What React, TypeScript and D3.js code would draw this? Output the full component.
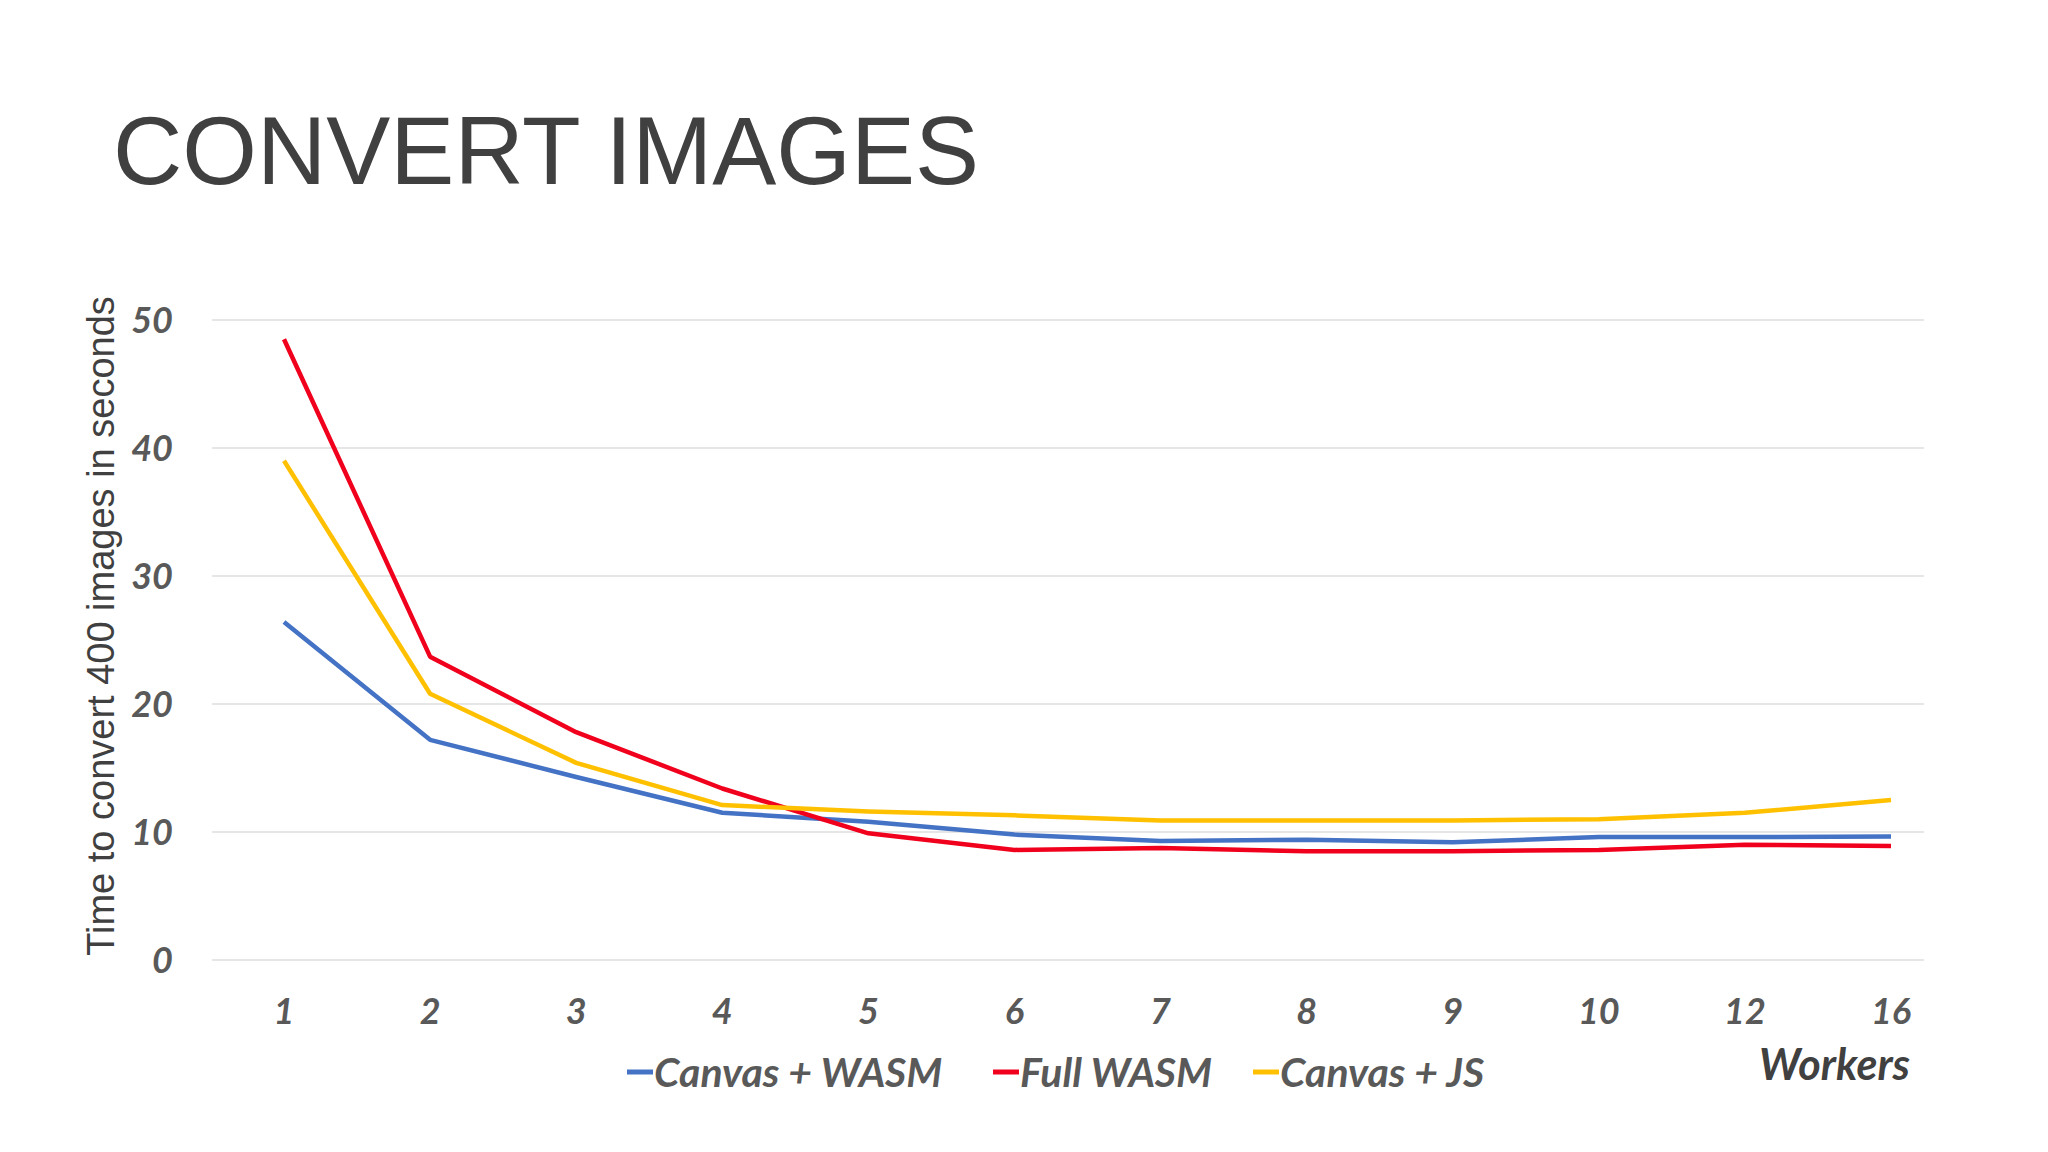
import * as d3 from 'd3'

const WORKERS = ['1', '2', '3', '4', '5', '6', '7', '8', '9', '10', '12', '16']
const CANVAS_WASM = [26.4, 17.2, 14.3, 11.5, 10.8, 9.8, 9.3, 9.4, 9.2, 9.6, 9.6, 9.65]
const FULL_WASM = [48.5, 23.7, 17.8, 13.4, 9.9, 8.6, 8.75, 8.5, 8.5, 8.6, 9.0, 8.9]
const CANVAS_JS = [39.0, 20.8, 15.4, 12.1, 11.6, 11.3, 10.9, 10.9, 10.9, 11.0, 11.5, 12.5]
const Y_TICKS = [0, 10, 20, 30, 40, 50]

const SERIES = [
  { name: 'Canvas + WASM', values: CANVAS_WASM, color: '#4472C4' },
  { name: 'Full WASM', values: FULL_WASM, color: '#F0001C' },
  { name: 'Canvas + JS', values: CANVAS_JS, color: '#FFC000' },
]

const W = 2048
const H = 1152
const labelFont = 'Lato, "Open Sans", sans-serif'

export default function App() {
  const x = d3.scalePoint<string>().domain(WORKERS).range([284, 1891])
  const y = d3.scaleLinear().domain([0, 50]).range([960, 320])
  const gridX0 = 212
  const gridX1 = 1924

  const line = d3.line<number>()
    .x((_, i) => x(WORKERS[i]) ?? 0)
    .y((d) => y(d))

  const legendPos = [627, 993, 1253]

  return (
    <div style={{ position: 'fixed', left: 0, top: 0, width: W, height: H, background: '#fff' }}>
      <svg width={W} height={H} style={{ display: 'block' }}>
        <rect width={W} height={H} fill="#ffffff" />
        <text x={113} y={184} fontFamily='"Liberation Sans", Arial, sans-serif' fontSize={96} fill="#404040">
          CONVERT IMAGES
        </text>

        {Y_TICKS.map((t) => (
          <g key={t}>
            <line x1={gridX0} x2={gridX1} y1={y(t)} y2={y(t)} stroke="#dedede" strokeWidth={1.5} />
            <text
              x={173}
              y={y(t)}
              dy="0.36em"
              textAnchor="end"
              fontFamily={labelFont}
              fontWeight={700}
              fontStyle="italic"
              fontSize={36}
              fill="#595959"
            >
              {t}
            </text>
          </g>
        ))}

        {WORKERS.map((w) => (
          <text
            key={w}
            x={x(w)}
            y={1011}
            dy="0.36em"
            textAnchor="middle"
            fontFamily={labelFont}
            fontWeight={700}
            fontStyle="italic"
            fontSize={36}
            fill="#595959"
          >
            {w}
          </text>
        ))}

        <text
          transform={`translate(114, 626) rotate(-90)`}
          textAnchor="middle"
          fontFamily='"Liberation Sans", Arial, sans-serif'
          fontSize={38}
          fill="#404040"
        >
          Time to convert 400 images in seconds
        </text>

        {SERIES.map((s) => (
          <path
            key={s.name}
            d={line(s.values) ?? ''}
            fill="none"
            stroke={s.color}
            strokeWidth={4.5}
            strokeLinejoin="round"
          />
        ))}

        {SERIES.map((s, i) => (
          <g key={s.name} transform={`translate(${legendPos[i]}, 1072)`}>
            <line x1={0} x2={26} y1={0} y2={0} stroke={s.color} strokeWidth={5} />
            <text
              x={27}
              dy="0.36em"
              fontFamily={labelFont}
              fontWeight={700}
              fontStyle="italic"
              fontSize={41}
              fill="#595959"
            >
              {s.name}
            </text>
          </g>
        ))}

        <text
          x={1910}
          y={1065}
          dy="0.36em"
          textAnchor="end"
          fontFamily={labelFont}
          fontWeight={700}
          fontStyle="italic"
          fontSize={43}
          fill="#404040"
        >
          Workers
        </text>
      </svg>
    </div>
  )
}
